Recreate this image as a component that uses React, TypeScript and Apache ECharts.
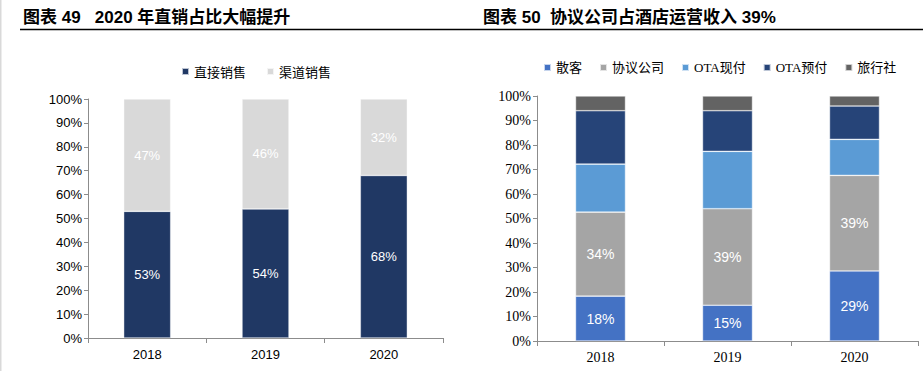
import React, { useEffect, useRef } from "react";
import * as echarts from "echarts";

const years = ["2018", "2019", "2020"];
const directSales = [53, 54, 68];
const channelSales = [47, 46, 32];

const walkIn = [18.3, 14.6, 28.6];
const corporate = [34.3, 39.4, 39.0];
const otaPayNow = [19.6, 23.4, 14.7];
const otaPrepaid = [21.8, 16.6, 13.6];
const travelAgency = [6.0, 6.0, 4.1];

const leftTitle = "图表 49   2020 年直销占比大幅提升";
const rightTitle = "图表 50  协议公司占酒店运营收入 39%";

const SANS = "Liberation Sans, Arial, Noto Sans CJK SC, sans-serif";
const SERIF = "Liberation Serif, Times New Roman, Noto Sans CJK SC, serif";
const CJK = "Noto Sans CJK SC, sans-serif";

export default function App() {
  const ref = useRef<HTMLDivElement>(null);
  useEffect(() => {
    if (!ref.current) return;
    const chart = echarts.init(ref.current, undefined, { renderer: "svg" });
    const pct = (p: any) => Math.round(p.value) + "%";
    const yAxisBase = (font: string, size: number) => ({
      type: "value",
      min: 0,
      max: 100,
      interval: 10,
      axisLine: { show: true, lineStyle: { color: "#8c8c8c", width: 1 } },
      axisTick: { show: true, length: 4, lineStyle: { color: "#8c8c8c" } },
      splitLine: { show: false },
      axisLabel: {
        formatter: "{value}%",
        color: "#000",
        fontFamily: font,
        fontSize: size,
        margin: 6,
      },
    });
    const xAxisBase = (font: string, size: number, margin: number) => ({
      type: "category",
      data: years,
      axisLine: { show: true, lineStyle: { color: "#8c8c8c", width: 1 } },
      axisTick: { show: true, length: 5, alignWithLabel: false, lineStyle: { color: "#8c8c8c" } },
      axisLabel: { color: "#000", fontFamily: font, fontSize: size, margin },
    });
    const border = { borderColor: "rgba(255,255,255,0.7)", borderWidth: 0.6 };
    const labelStyle = (size: number) => ({
      show: true,
      position: "inside",
      color: "#fff",
      fontFamily: SANS,
      fontSize: size,
      formatter: pct,
    });
    chart.setOption({
      animation: false,
      backgroundColor: "#fff",
      graphic: [
        { type: "rect", shape: { x: 0, y: 0, width: 1.5, height: 371 }, style: { fill: "#d9d9d9" } },
        {
          type: "text",
          x: 23,
          y: 17,
          style: {
            text: leftTitle,
            fontFamily: SANS,
            fontWeight: "bold",
            fontSize: 17,
            fill: "#000",
            verticalAlign: "middle",
          },
        },
        {
          type: "text",
          x: 483,
          y: 17,
          style: {
            text: rightTitle,
            fontFamily: SANS,
            fontWeight: "bold",
            fontSize: 17,
            fill: "#000",
            verticalAlign: "middle",
          },
        },
        {
          type: "line",
          shape: { x1: 20, y1: 29.5, x2: 923, y2: 29.5 },
          style: { stroke: "#000", lineWidth: 1.5 },
        },
      ],
      legend: [
        {
          data: ["直接销售", "渠道销售"],
          left: 176,
          top: 60,
          itemWidth: 7,
          itemHeight: 7,
          itemGap: 20,
          icon: "rect",
          textStyle: { fontFamily: CJK, fontSize: 13, color: "#000" },
        },
        {
          data: ["散客", "协议公司", "OTA现付", "OTA预付", "旅行社"],
          left: 538,
          top: 56,
          itemWidth: 7,
          itemHeight: 7,
          itemGap: 17,
          icon: "rect",
          textStyle: { fontFamily: SERIF, fontSize: 13, color: "#000" },
        },
      ],
      grid: [
        { left: 88, top: 99, width: 355, height: 239 },
        { left: 537, top: 96, width: 381, height: 245 },
      ],
      xAxis: [
        { ...xAxisBase(SANS, 13, 10), gridIndex: 0 },
        { ...xAxisBase(SERIF, 14, 9), gridIndex: 1 },
      ],
      yAxis: [
        { ...yAxisBase(SANS, 13), gridIndex: 0 },
        { ...yAxisBase(SERIF, 14), gridIndex: 1 },
      ],
      series: [
        {
          name: "直接销售",
          type: "bar",
          stack: "a",
          xAxisIndex: 0,
          yAxisIndex: 0,
          barWidth: 47,
          data: directSales,
          itemStyle: { color: "#203864", ...border },
          label: labelStyle(13),
        },
        {
          name: "渠道销售",
          type: "bar",
          stack: "a",
          xAxisIndex: 0,
          yAxisIndex: 0,
          barWidth: 47,
          data: channelSales,
          itemStyle: { color: "#d9d9d9", ...border },
          label: labelStyle(13),
        },
        {
          name: "散客",
          type: "bar",
          stack: "b",
          xAxisIndex: 1,
          yAxisIndex: 1,
          barWidth: 50,
          data: walkIn,
          itemStyle: { color: "#4472c4", ...border },
          label: labelStyle(14),
        },
        {
          name: "协议公司",
          type: "bar",
          stack: "b",
          xAxisIndex: 1,
          yAxisIndex: 1,
          barWidth: 50,
          data: corporate,
          itemStyle: { color: "#a5a5a5", ...border },
          label: labelStyle(14),
        },
        {
          name: "OTA现付",
          type: "bar",
          stack: "b",
          xAxisIndex: 1,
          yAxisIndex: 1,
          barWidth: 50,
          data: otaPayNow,
          itemStyle: { color: "#5b9bd5", ...border },
        },
        {
          name: "OTA预付",
          type: "bar",
          stack: "b",
          xAxisIndex: 1,
          yAxisIndex: 1,
          barWidth: 50,
          data: otaPrepaid,
          itemStyle: { color: "#264478", ...border },
        },
        {
          name: "旅行社",
          type: "bar",
          stack: "b",
          xAxisIndex: 1,
          yAxisIndex: 1,
          barWidth: 50,
          data: travelAgency,
          itemStyle: { color: "#636363", ...border },
        },
      ],
    });
    return () => chart.dispose();
  }, []);
  return (
    <div
      ref={ref}
      style={{ position: "fixed", left: 0, top: 0, width: 923, height: 371 }}
    />
  );
}
